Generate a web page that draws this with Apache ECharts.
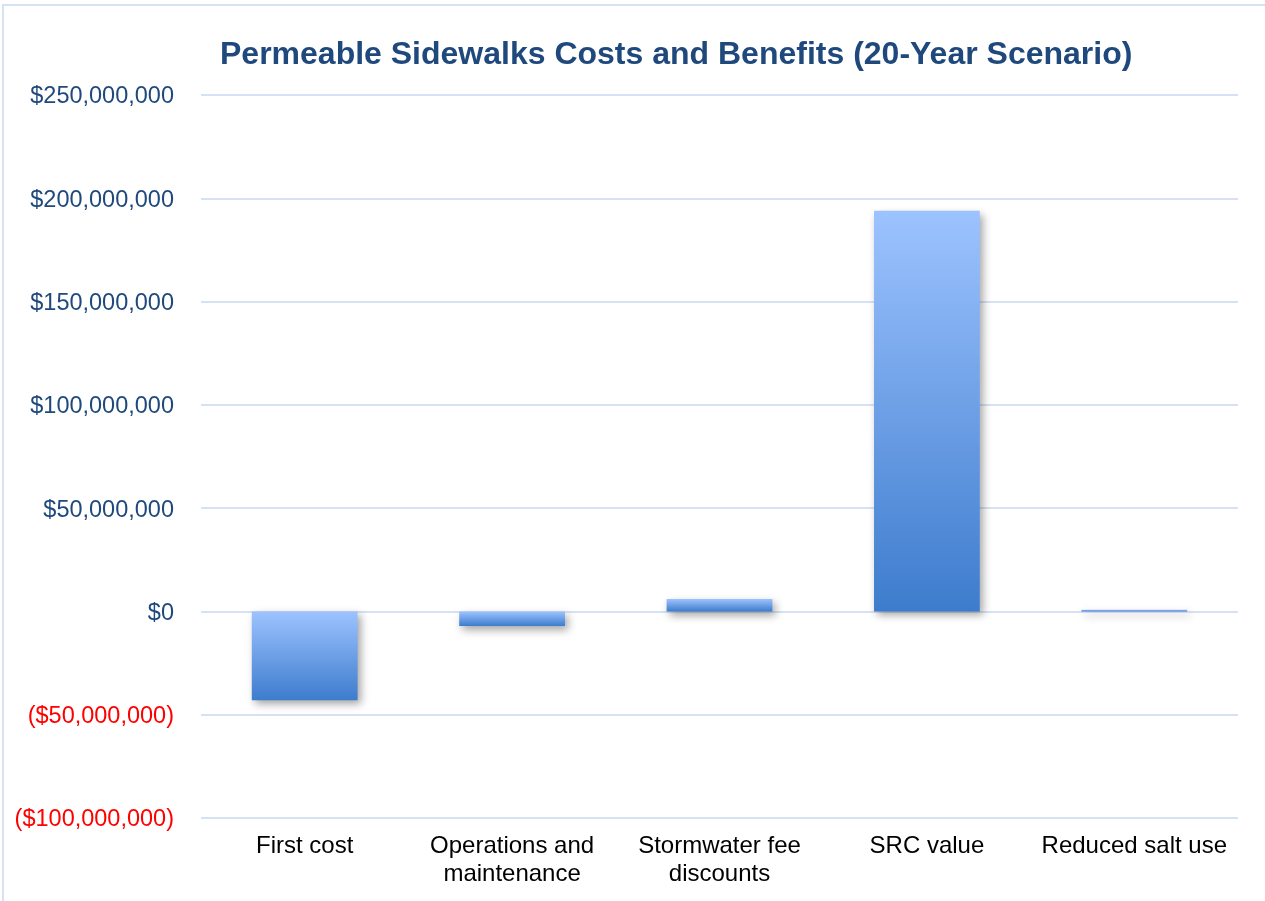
<!DOCTYPE html>
<html>
<head>
<meta charset="utf-8">
<script src="https://cdn.jsdelivr.net/npm/echarts@6/dist/echarts.min.js"></script>
<style>
  html, body { margin: 0; padding: 0; background: #fff; overflow: hidden; }
  #chart { position: absolute; left: 2px; top: 4px; width: 1270px; height: 905px;
           border-left: 2px solid #d6e2f3; border-top: 2px solid #d6e2f3; box-sizing: border-box; }
</style>
</head>
<body>
<div id="chart"></div>
<script>
const categories = ['First cost', 'Operations and\nmaintenance', 'Stormwater fee\ndiscounts', 'SRC value', 'Reduced salt use']
const values = [-43000000, -7000000, 6000000, 194000000, 800000]

const chart = echarts.init(document.getElementById('chart'))

function money(v) {
  const s = '$' + Math.abs(v).toLocaleString('en-US')
  return v < 0 ? '{neg|(' + s + ')}' : s
}

chart.setOption({
  title: {
    text: 'Permeable Sidewalks Costs and Benefits (20-Year Scenario)',
    left: 211,
    top: 28,
    textStyle: {
      fontFamily: 'Liberation Sans, Arial',
      fontSize: 32,
      fontWeight: 'bold',
      color: '#1f497d'
    }
  },
  grid: {
    left: 197,
    right: 34,
    top: 89,
    bottom: 91
  },
  xAxis: {
    type: 'category',
    data: categories,
    position: 'bottom',
    axisLine: { show: false },
    axisTick: { show: false },
    axisLabel: {
      fontFamily: 'Liberation Sans, Arial',
      fontSize: 24,
      color: '#000',
      lineHeight: 28,
      margin: 14,
      interval: 0
    }
  },
  yAxis: {
    type: 'value',
    min: -100000000,
    max: 250000000,
    interval: 50000000,
    axisLine: { show: false },
    axisTick: { show: false },
    splitLine: { lineStyle: { color: '#d6e2f3', width: 2 } },
    axisLabel: {
      fontFamily: 'Liberation Sans, Arial',
      fontSize: 23.5,
      color: '#1f497d',
      margin: 27,
      verticalAlign: 'middle',
      padding: [4, 0, 0, 0],
      formatter: money,
      rich: {
        neg: { color: '#ff0000', fontFamily: 'Liberation Sans, Arial', fontSize: 23.5 }
      }
    }
  },
  series: [{
    type: 'bar',
    data: values,
    barWidth: '51%',
    animation: false,
    itemStyle: {
      color: new echarts.graphic.LinearGradient(0, 0, 0, 1, [
        { offset: 0, color: '#9dc3ff' },
        { offset: 1, color: '#3d7ccd' }
      ]),
      shadowColor: 'rgba(0,0,0,0.35)',
      shadowBlur: 8,
      shadowOffsetX: 3,
      shadowOffsetY: 4
    }
  }]
})
</script>
</body>
</html>
